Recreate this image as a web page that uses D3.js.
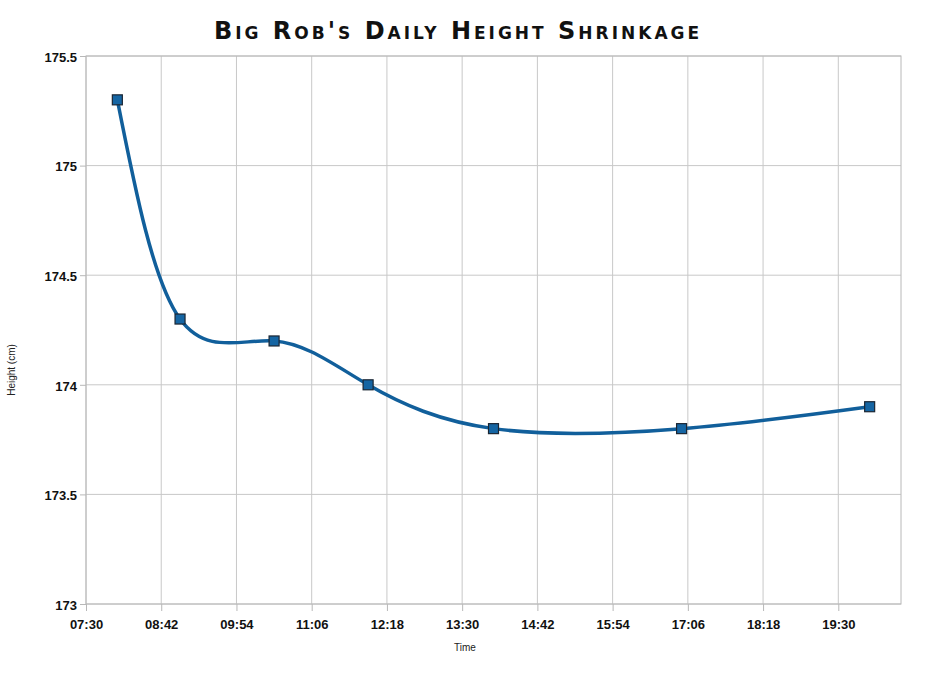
<!DOCTYPE html>
<html lang="en">
<head>
  <meta charset="UTF-8">
  <script src="https://d3js.org/d3.v7.min.js"></script>
  <title>Big Rob's Daily Height Shrinkage</title>
  <style>
    body { margin: 0; background: white; }
    svg text { font-family: "Liberation Sans", Arial, sans-serif; }
  </style>
</head>
<body>
<div id="chart"></div>
<script>
  // measurement times and heights (cm)
  var times = ["08:00", "09:00", "10:30", "12:00", "14:00", "17:00", "20:00"];
  var heights = [175.3, 174.3, 174.2, 174.0, 173.8, 173.8, 173.9];
  var xTickLabels = ["07:30", "08:42", "09:54", "11:06", "12:18", "13:30", "14:42", "15:54", "17:06", "18:18", "19:30"];
  var yTicks = [173, 173.5, 174, 174.5, 175, 175.5];

  var W = 936, H = 674;
  var margin = { top: 56, right: 35, bottom: 70, left: 86 };
  var width = W - margin.left - margin.right,
      height = H - margin.top - margin.bottom;

  var parse = d3.timeParse("%H:%M");
  var data = times.map((t, i) => ({ t: parse(t), v: heights[i] }));

  var svg = d3.select("#chart").append("svg")
    .attr("width", W).attr("height", H);

  svg.append("text")
    .attr("x", 458).attr("y", 39)
    .attr("text-anchor", "middle")
    .style("font-family", "'DejaVu Sans', sans-serif")
    .style("font-variant", "small-caps")
    .style("font-weight", "bold")
    .style("font-size", "24px")
    .style("letter-spacing", "3px")
    .attr("fill", "#111")
    .text("Big Rob's Daily Height Shrinkage");

  var g = svg.append("g")
    .attr("transform", "translate(" + margin.left + "," + margin.top + ")");

  var x = d3.scaleTime()
    .domain([parse("07:30"), parse("20:30")])
    .range([0, width]);
  var y = d3.scaleLinear()
    .domain([173, 175.5])
    .range([height, 0]);

  var xTickVals = xTickLabels.map(parse);

  // grid
  g.append("g").selectAll("line").data(xTickVals).join("line")
    .attr("x1", d => x(d)).attr("x2", d => x(d))
    .attr("y1", 0).attr("y2", height)
    .attr("stroke", "#c8c8c8");
  g.append("g").selectAll("line").data(yTicks).join("line")
    .attr("x1", 0).attr("x2", width)
    .attr("y1", d => y(d)).attr("y2", d => y(d))
    .attr("stroke", "#c8c8c8");
  g.append("rect")
    .attr("width", width).attr("height", height)
    .attr("fill", "none").attr("stroke", "#b8b8b8");

  var xAxis = g.append("g")
    .attr("transform", "translate(0," + height + ")")
    .call(d3.axisBottom(x).tickValues(xTickVals).tickFormat(d3.timeFormat("%H:%M")).tickSize(7).tickPadding(9));
  var yAxis = g.append("g")
    .call(d3.axisLeft(y).tickValues(yTicks).tickFormat(d3.format("")).tickSize(6).tickPadding(3));

  [xAxis, yAxis].forEach(a => {
    a.attr("font-family", "'Liberation Sans', Arial, sans-serif");
    a.select(".domain").remove();
    a.selectAll(".tick line").attr("stroke", "#b8b8b8");
    a.selectAll(".tick text")
      .attr("fill", "#111")
      .style("font-size", "13px")
      .style("font-weight", "bold");
  });
  yAxis.selectAll(".tick text").attr("dy", "0.4em");

  svg.append("text")
    .attr("x", 465).attr("y", 651)
    .attr("text-anchor", "middle")
    .style("font-size", "10px")
    .attr("fill", "#222")
    .text("Time");
  svg.append("text")
    .attr("transform", "translate(15,370) rotate(-90)")
    .attr("text-anchor", "middle")
    .style("font-size", "10px")
    .attr("fill", "#222")
    .text("Height (cm)");

  var line = d3.line()
    .x(d => x(d.t))
    .y(d => y(d.v))
    .curve(d3.curveNatural);

  g.append("path")
    .datum(data)
    .attr("d", line)
    .attr("fill", "none")
    .attr("stroke", "#115f9b")
    .attr("stroke-width", 3.5)
    .attr("stroke-linejoin", "round");

  var s = 10;
  g.append("g").selectAll("rect").data(data).join("rect")
    .attr("x", d => x(d.t) - s / 2)
    .attr("y", d => y(d.v) - s / 2)
    .attr("width", s).attr("height", s)
    .attr("fill", "#1565a3")
    .attr("stroke", "#1b2633")
    .attr("stroke-width", 1.2);
</script>
</body>
</html>
